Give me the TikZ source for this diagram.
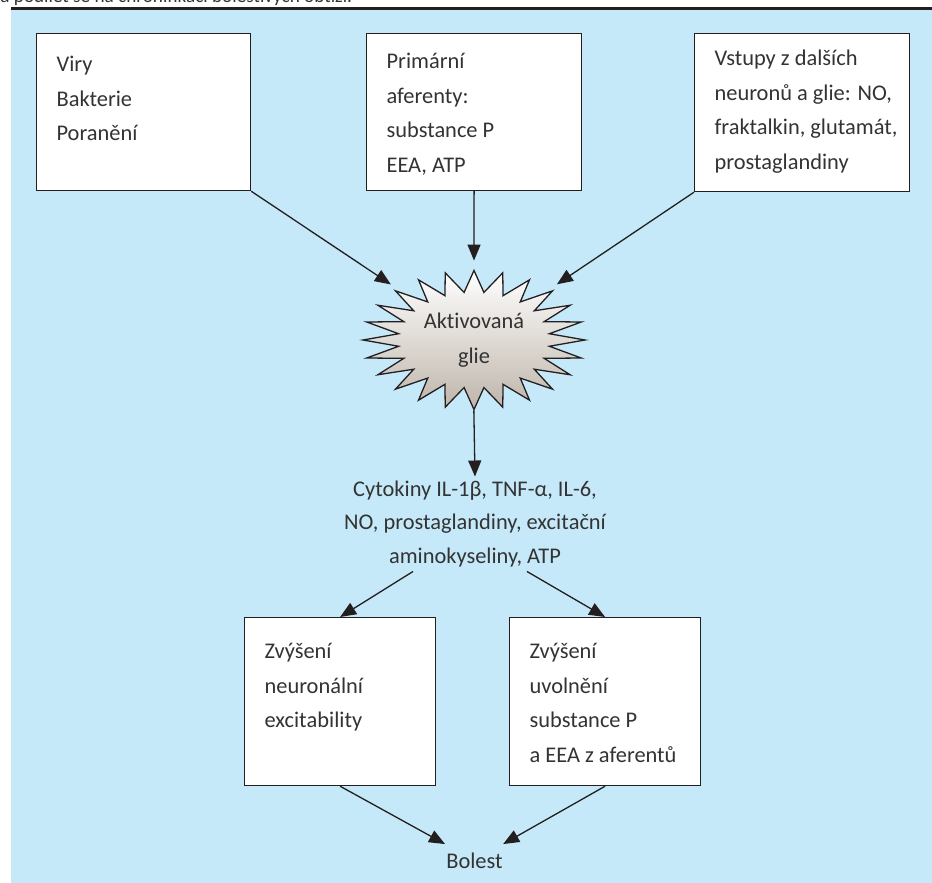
\documentclass[tikz,border=0pt]{standalone}
\usepackage{fontspec}
\setmainfont{Carlito}[Ligatures={NoCommon,NoRare},Contextuals={NoAlternate}]
\usetikzlibrary{arrows.meta,shapes.geometric}

\definecolor{glieblue}{RGB}{198,233,249}
\definecolor{linegray}{RGB}{35,31,32}
\definecolor{textgray}{RGB}{51,51,51}
\definecolor{gliebase}{RGB}{190,181,170}

% box text: height, width, first baseline, lines
\newcommand{\boxtext}[4]{%
  \parbox[t][#1][t]{#2}{\raggedright\leftskip=10pt\relax\rule{0pt}{#3}#4}}
\newcommand{\nolig}{\kern0pt}

\begin{document}
\begin{tikzpicture}[x=0.5pt,y=-0.5pt,
  font=\fontsize{11.2pt}{17.25pt}\selectfont,
  box/.style={draw=linegray,fill=white,line width=0.6pt,anchor=north west,
    inner sep=0pt,text=textgray},
  arr/.style={draw=linegray,line width=0.65pt,-{Triangle[length=8pt,width=6.5pt]}}]
  \useasboundingbox (0,0) rectangle (932,883);
  \fill[glieblue](11,10) rectangle (932,883);
  \fill[linegray](11,7) rectangle (932,10);
  \node[anchor=base west,inner sep=0pt,text=textgray,font=\fontsize{9.6pt}{11pt}\selectfont]
    (caption) at (0,3) {a podílet se na chronifikaci bolestivých obtíží.};

  % inputs
  \node[box](viry) at (36,33) {\boxtext{78.5pt}{107pt}{19pt}{Viry\\Bakterie\\Poranění}};
  \node[box](aferenty) at (366,33) {\boxtext{78.5pt}{107.5pt}{17.5pt}{Primární\\aferenty:\\substance P\\EEA, ATP}};
  \node[box](vstupy) at (694,33) {\boxtext{79pt}{107.5pt}{16pt}{Vstupy z dalších\\neuronů a glie: NO,\\fraktalkin, glutamát,\\prostaglandiny}};

  % activated glia
  \shade[shift={(474,340)},top color=white,bottom color=gliebase,draw=linegray,line width=0.65pt]
    (90:111 and 69.5) \foreach \k in {0,...,23}{
      -- ({97.5+15*\k}:76 and 48) -- ({105+15*\k}:111 and 69.5)} -- cycle;
  \node[ellipse,minimum width=116pt,minimum height=79pt,inner sep=0pt,align=center,text=textgray]
    (glie) at (474,340) {Akt\nolig ivovaná\\glie};

  \node[align=center,inner sep=2pt,text=textgray,font=\fontsize{11.2pt}{16.75pt}\selectfont]
    (cytokiny) at (475,524) {Cytokiny IL-1β, TNF-α, IL-6,\\NO, prostaglandiny, excit\nolig ační\\aminokyseliny, ATP};

  % effects
  \node[box](excit) at (244,617) {\boxtext{84pt}{95.5pt}{20.5pt}{Zvýšení\\neuronální\\excit\nolig ability}};
  \node[box](uvolneni) at (509,617) {\boxtext{84pt}{95.5pt}{20.5pt}{Zvýšení\\uvolnění\\substance P\\a EEA z aferentů}};
  \node[anchor=base,inner sep=4pt,text=textgray](bolest) at (474.5,868) {Bolest};

  \draw[arr](viry.south east) -- (glie);
  \draw[arr](aferenty.south) -- (glie.north);
  \draw[arr](vstupy.south west) -- (glie);
  \draw[arr,shorten <=-4.5pt](glie.south) -- (cytokiny.north);
  \draw[arr]([xshift=-31pt]cytokiny.south) -- (excit.north);
  \draw[arr]([xshift=26pt]cytokiny.south) -- (uvolneni.north);
  \draw[arr](excit.south) -- (bolest);
  \draw[arr](uvolneni.south) -- (bolest);
\end{tikzpicture}
\end{document}
